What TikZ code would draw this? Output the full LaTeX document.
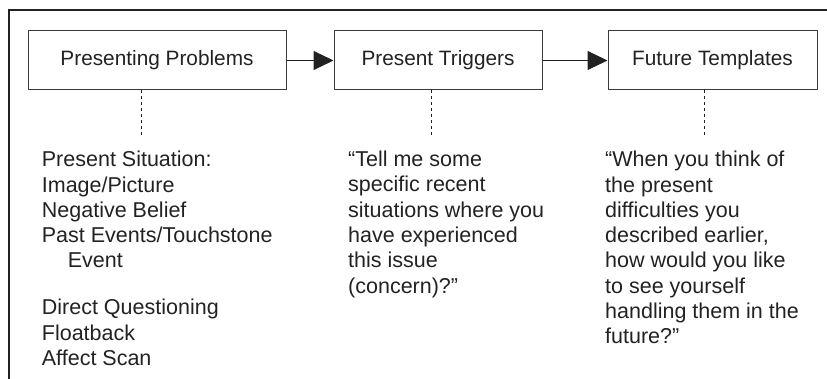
\documentclass[tikz,border=0pt]{standalone}
\usepackage{fontspec}
\setmainfont{Liberation Sans}
\usetikzlibrary{arrows.meta}
\definecolor{ink}{RGB}{34,34,34}
\definecolor{edge}{RGB}{60,60,60}
\begin{document}
\begin{tikzpicture}[x=1pt,y=-1pt,
  frameline/.style={draw=ink,line width=2.4pt},
  stage/.style={draw=edge,line width=1pt,minimum height=59pt,inner sep=0pt,
    text=ink,font=\fontsize{20.8}{25}\selectfont},
  flow/.style={draw=ink,line width=1pt,-{Triangle[length=20pt,width=19pt]}},
  dots/.style={draw=ink,line width=1pt,dash pattern=on 3pt off 3pt},
  body/.style={anchor=base west,align=left,inner sep=0pt,text=ink,
    font=\fontsize{21.5}{25.3}\selectfont}]
\useasboundingbox (0,0) rectangle (827,379);
\draw[frameline] (827,10) -- (9,10) -- (9,379);
\node[stage,minimum width=258pt] (b1) at (157,60.5) {Presenting Problems};
\node[stage,minimum width=208pt] (b2) at (438,60.5) {Present Triggers};
\node[stage,minimum width=209pt] (b3) at (712.5,60.5) {Future Templates};
\draw[flow] (b1) -- (b2);
\draw[flow] (b2) -- (b3);
\coordinate (d1) at (141,137);
\coordinate (d2) at (431,137);
\coordinate (d3) at (704,137);
\draw[dots] (b1.south -| d1) -- (d1);
\draw[dots] (b2.south -| d2) -- (d2);
\draw[dots] (b3.south -| d3) -- (d3);
% base anchor of a multi-line node is the baseline of its last line
\node[body] (t1) at (41.7,365.5) {Present Situation:\\Image/Picture\\Negative Belief\\Past Events/Touchstone\\\hspace*{26pt}Event\\[21.7pt]Direct Questioning\\Floatback\\Affect Scan};
\node[body] (t2) at (348,293.2) {“Tell me some\\specific recent\\situations where you\\have experienced\\this issue\\(concern)?”};
\node[body] (t3) at (605,343.8) {“When you think of\\the present\\difficulties you\\described earlier,\\how would you like\\to see yourself\\handling them in the\\future?”};
\end{tikzpicture}
\end{document}
